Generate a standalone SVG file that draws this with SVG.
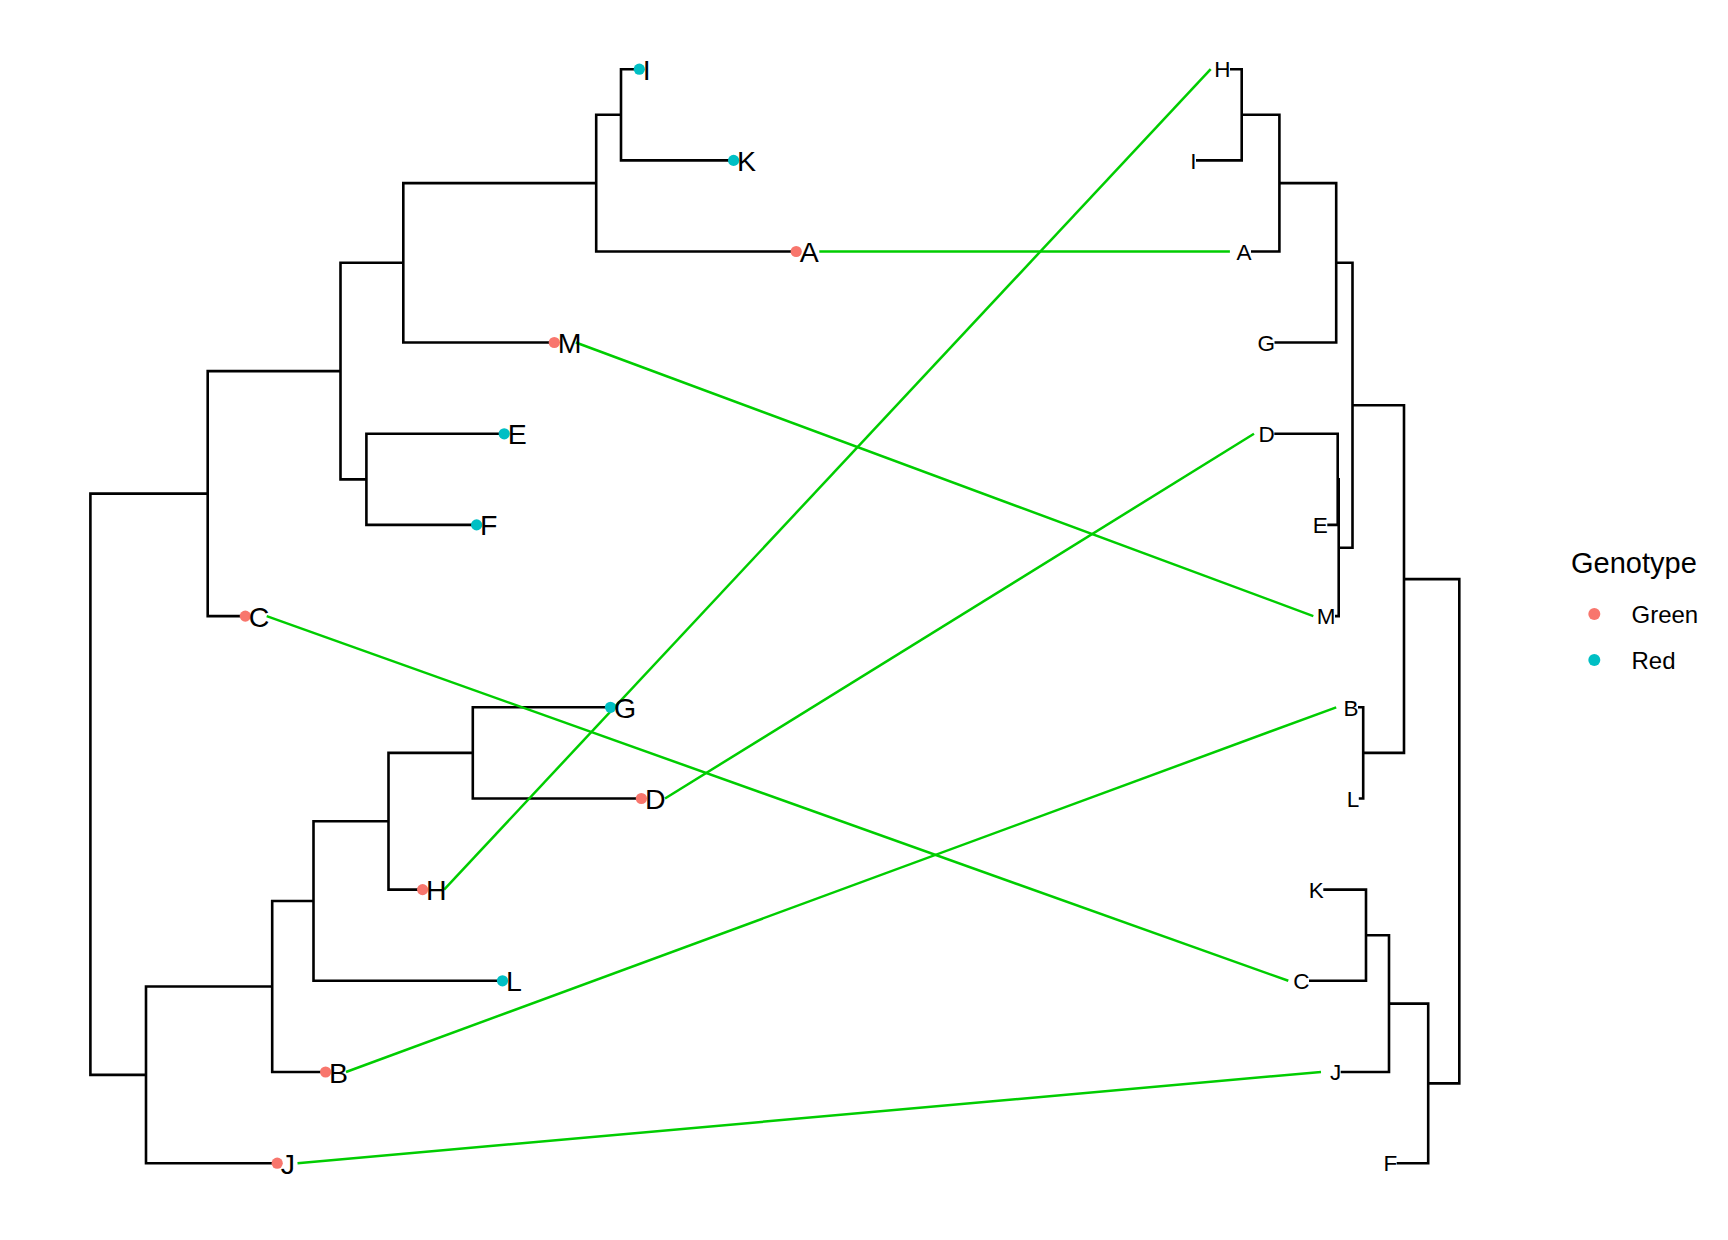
<svg xmlns="http://www.w3.org/2000/svg" width="1728" height="1240" viewBox="0 0 1728 1240">
<style>
.br{fill:none;stroke:#000;stroke-width:2.6;stroke-linecap:butt;stroke-linejoin:miter}
.cn{fill:none;stroke:#00CD00;stroke-width:2.5}
.ll{font-family:"Liberation Sans",Arial,sans-serif;font-size:28.5px;fill:#000}
.rl{font-family:"Liberation Sans",Arial,sans-serif;font-size:22.5px;fill:#000;text-anchor:end}
.g{fill:#F8766D}
.r{fill:#00BFC4}
.lg{font-family:"Liberation Sans",Arial,sans-serif;fill:#000}
</style>
<rect width="1728" height="1240" fill="#fff"/>

<g id="tree-left">
<path class="br" d="M639.3 69.2H621V160.4H733.6"/>
<path class="br" d="M621 114.8H596.2V251.5H796.2"/>
<path class="br" d="M596.2 183.15H403.3V342.5H554.3"/>
<path class="br" d="M504.2 433.8H366.4V524.9H476.6"/>
<path class="br" d="M403.3 262.8H340.5V479.35H366.4"/>
<path class="br" d="M340.5 371.1H207.7V616.1H245.3"/>
<path class="br" d="M610.5 707.3H472.8V798.5H641.4"/>
<path class="br" d="M472.8 752.9H388.5V889.6H422.6"/>
<path class="br" d="M388.5 821.25H313.5V980.8H502.5"/>
<path class="br" d="M313.5 901H272.2V1072H325.6"/>
<path class="br" d="M272.2 986.5H146V1163.2H277.2"/>
<path class="br" d="M207.7 493.6H90.4V1074.85H146"/>
</g>

<g id="tree-right">
<path class="br" d="M1230 69.2H1241.7V160.4H1196"/>
<path class="br" d="M1241.7 114.8H1279.4V251.5H1251"/>
<path class="br" d="M1279.4 183.15H1336.2V342.5H1274.5"/>
<path class="br" d="M1274.3 433.8H1337.7V524.9H1327.3"/>
<path class="br" d="M1337.7 479.35H1338.7V616.1H1335"/>
<path class="br" d="M1336.2 262.8H1352.5V547.7H1338.7"/>
<path class="br" d="M1358 707.3H1363.2V798.5H1358.8"/>
<path class="br" d="M1352.5 405.25H1404V752.9H1363.2"/>
<path class="br" d="M1323.3 889.6H1366V980.8H1309"/>
<path class="br" d="M1366 935.2H1389V1072H1340.7"/>
<path class="br" d="M1389 1003.6H1428.2V1163.2H1396.7"/>
<path class="br" d="M1404 579.1H1459.3V1083.4H1428.2"/>
</g>

<g id="connectors">
<line class="cn" x1="819.3" y1="251.5" x2="1229.9" y2="251.5"/>
<line class="cn" x1="575.8" y1="342.5" x2="1313.3" y2="616.1"/>
<line class="cn" x1="444.1" y1="889.6" x2="1210.7" y2="69.2"/>
<line class="cn" x1="665" y1="798.5" x2="1254" y2="433.8"/>
<line class="cn" x1="266.7" y1="616.1" x2="1288.3" y2="980.8"/>
<line class="cn" x1="346" y1="1072" x2="1336.2" y2="707.3"/>
<line class="cn" x1="297.5" y1="1163.2" x2="1321" y2="1072"/>
</g>

<g id="left-I"><circle class="r" cx="639.3" cy="69.2" r="5.6"/><text class="ll" x="642.8" y="79.7">I</text></g>
<g id="left-K"><circle class="r" cx="733.6" cy="160.4" r="5.6"/><text class="ll" x="737.1" y="170.9">K</text></g>
<g id="left-A"><circle class="g" cx="796.2" cy="251.5" r="5.6"/><text class="ll" x="799.7" y="262">A</text></g>
<g id="left-M"><circle class="g" cx="554.3" cy="342.5" r="5.6"/><text class="ll" x="557.8" y="353">M</text></g>
<g id="left-E"><circle class="r" cx="504.2" cy="433.8" r="5.6"/><text class="ll" x="507.7" y="444.3">E</text></g>
<g id="left-F"><circle class="r" cx="476.6" cy="524.9" r="5.6"/><text class="ll" x="480.1" y="535.4">F</text></g>
<g id="left-C"><circle class="g" cx="245.3" cy="616.1" r="5.6"/><text class="ll" x="248.8" y="626.6">C</text></g>
<g id="left-G"><circle class="r" cx="610.5" cy="707.3" r="5.6"/><text class="ll" x="614" y="717.8">G</text></g>
<g id="left-D"><circle class="g" cx="641.4" cy="798.5" r="5.6"/><text class="ll" x="644.9" y="809">D</text></g>
<g id="left-H"><circle class="g" cx="422.6" cy="889.6" r="5.6"/><text class="ll" x="426.1" y="900.1">H</text></g>
<g id="left-L"><circle class="r" cx="502.5" cy="980.8" r="5.6"/><text class="ll" x="506" y="991.3">L</text></g>
<g id="left-B"><circle class="g" cx="325.6" cy="1072" r="5.6"/><text class="ll" x="329.1" y="1082.5">B</text></g>
<g id="left-J"><circle class="g" cx="277.2" cy="1163.2" r="5.6"/><text class="ll" x="280.7" y="1173.7">J</text></g>

<g id="right-H"><text class="rl" x="1230.5" y="77.4">H</text></g>
<g id="right-I"><text class="rl" x="1196.5" y="168.6">I</text></g>
<g id="right-A"><text class="rl" x="1251.5" y="259.7">A</text></g>
<g id="right-G"><text class="rl" x="1275" y="350.7">G</text></g>
<g id="right-D"><text class="rl" x="1274.8" y="442">D</text></g>
<g id="right-E"><text class="rl" x="1327.8" y="533.1">E</text></g>
<g id="right-M"><text class="rl" x="1335.5" y="624.3">M</text></g>
<g id="right-B"><text class="rl" x="1358.5" y="715.5">B</text></g>
<g id="right-L"><text class="rl" x="1359.3" y="806.7">L</text></g>
<g id="right-K"><text class="rl" x="1323.8" y="897.8">K</text></g>
<g id="right-C"><text class="rl" x="1309.5" y="989">C</text></g>
<g id="right-J"><text class="rl" x="1341.2" y="1080.2">J</text></g>
<g id="right-F"><text class="rl" x="1397.2" y="1171.4">F</text></g>

<g id="legend">
<text class="lg" x="1571" y="573.3" font-size="29">Genotype</text>
<circle class="g" cx="1594.3" cy="614" r="6"/>
<text class="lg" x="1631.5" y="622.7" font-size="24">Green</text>
<circle class="r" cx="1594.3" cy="660" r="6"/>
<text class="lg" x="1631.5" y="669" font-size="24">Red</text>
</g>
</svg>
